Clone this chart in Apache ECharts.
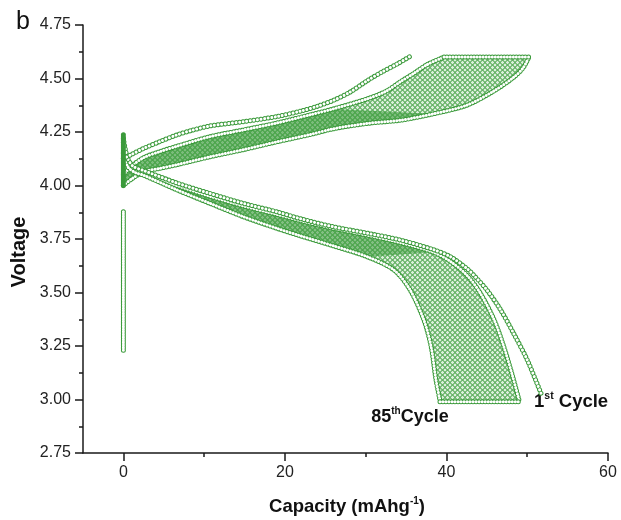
<!DOCTYPE html>
<html>
<head>
<meta charset="utf-8">
<script src="https://cdn.jsdelivr.net/npm/echarts@6/dist/echarts.min.js"></script>
<style>
  html, body { margin: 0; padding: 0; background: #fff; }
  #chart { width: 621px; height: 520px; }
</style>
</head>
<body>
<div id="chart"></div>
<script>
// values: [capacity (mAh/g), voltage (V)]
const restColumn = [[0, 3.23], [0, 3.88]];
const spikeColumn = [[0, 4.0], [0, 4.24]];

// 1st cycle charge (the lone upper curve)
const charge1st = [[0, 4.125], [1, 4.145], [2.5, 4.173], [4.5, 4.205], [6.6, 4.236], [8.5, 4.258],
  [10.7, 4.278], [14.8, 4.298], [19, 4.322], [22, 4.348], [24, 4.37], [26, 4.398], [28, 4.435],
  [30.2, 4.49], [32, 4.53], [34, 4.57], [35.7, 4.608]];
// lower edge of the charge band (reaches 4.6 V last)
const chargeLow = [[0, 4.0], [1, 4.03], [2.5, 4.064], [4.5, 4.08], [6.6, 4.097], [10.7, 4.134],
  [14.8, 4.167], [19, 4.204], [23.1, 4.238], [26, 4.265], [30.2, 4.29], [34.3, 4.305],
  [38.4, 4.335], [42.5, 4.375], [45.8, 4.44], [48.3, 4.505], [49.5, 4.55], [50.2, 4.6]];
// upper edge of the charge band (reaches 4.6 V first)
const chargeHigh = [[0, 4.05], [1, 4.09], [2.5, 4.13], [4.5, 4.158], [6.6, 4.183], [10.7, 4.228],
  [14.8, 4.259], [19, 4.292], [23.1, 4.33], [26, 4.358], [30.2, 4.405], [32.5, 4.44],
  [34.3, 4.485], [36, 4.525], [37.6, 4.565], [39.7, 4.6]];
// 1st cycle discharge (outermost curve)
const discharge1st = [[0, 4.22], [0.5, 4.13], [1.2, 4.09], [2.5, 4.07], [6.6, 4.012], [10.7, 3.963],
  [14.8, 3.917], [19, 3.877], [21.9, 3.845], [26, 3.807], [30.2, 3.777], [34.3, 3.745],
  [38.4, 3.70], [40.5, 3.667], [42.6, 3.61], [43.4, 3.58], [45, 3.512], [46.7, 3.419],
  [48.3, 3.31], [50, 3.185], [51.2, 3.076], [51.8, 3.02]];
// right edge of the discharge fan
const dischargeHigh = [[0, 4.2], [0.5, 4.11], [1.2, 4.075], [2.5, 4.058], [6.6, 4.0], [10.7, 3.95],
  [14.8, 3.905], [19, 3.865], [22, 3.835], [26, 3.80], [30.2, 3.768], [34.3, 3.733],
  [38.4, 3.688], [40.5, 3.645], [42.6, 3.578], [44.2, 3.496], [45.9, 3.372], [47.1, 3.247],
  [48.2, 3.107], [49, 2.995]];
// left edge of the discharge fan (85th cycle)
const discharge85th = [[0, 4.15], [0.6, 4.085], [1.5, 4.06], [2.5, 4.048], [6.6, 3.98], [10.7, 3.917],
  [14.8, 3.855], [19, 3.80], [21.9, 3.765], [26, 3.718], [30.2, 3.667], [33.5, 3.605],
  [35.5, 3.512], [37.2, 3.372], [38.1, 3.247], [38.7, 3.092], [39.2, 2.995]];
const chargeEnd = [[39.7, 4.6], [50.2, 4.6]];
const dischargeEnd = [[39.2, 2.99], [49, 2.99]];

const xMajorTicks = [0, 20, 40, 60];
const xMinorTicks = [10, 30, 50];

const green = '#3a9a3a';
const ink = '#1a1a1a';
const font = '"Liberation Sans", Arial, sans-serif';

// one small hollow circle, tiled to fill the bands of cycles
const tile = document.createElement('canvas');
tile.width = 5;
tile.height = 5;
const tctx = tile.getContext('2d');
tctx.strokeStyle = 'rgba(55,155,55,0.9)';
tctx.lineWidth = 1;
tctx.beginPath();
tctx.arc(2.5, 2.5, 2, 0, Math.PI * 2);
tctx.stroke();
const ringFill = { image: tile, repeat: 'repeat' };

// a curve of hollow circles: green dots with white centres on the same dash
function ringLine(data, gap, hollow = true) {
  const base = { type: 'line', data, smooth: 0.3, symbol: 'none', silent: true, animation: false };
  const out = [
    Object.assign({}, base, { lineStyle: { color: green, width: 5, type: [0.01, gap], cap: 'round' } })
  ];
  if (hollow) {
    out.push(Object.assign({}, base, { lineStyle: { color: '#fff', width: 3, type: [0.01, gap], cap: 'round' } }));
  }
  return out;
}

function band(points, fill) {
  return {
    type: 'custom',
    coordinateSystem: 'cartesian2d',
    data: [points[0]],
    silent: true,
    animation: false,
    renderItem: (params, api) => ({
      type: 'polygon',
      shape: { points: points.map(p => api.coord(p)) },
      style: { fill, stroke: 'none' }
    })
  };
}

const chargeBand = chargeLow.concat(chargeHigh.slice().reverse());
const dischargeBand = dischargeHigh.concat(discharge85th.slice().reverse());
// the left parts of the bands, where the cycles pile up darkest
const chargeCore = chargeLow.filter(p => p[0] <= 38.4)
  .concat(chargeHigh.filter(p => p[0] <= 26).reverse());
const dischargeCore = dischargeHigh.filter(p => p[0] <= 38.4)
  .concat(discharge85th.filter(p => p[0] <= 30.2).reverse());

const tickStyle = { color: ink, width: 1.5 };

const chart = echarts.init(document.getElementById('chart'));
chart.setOption({
  animation: false,
  grid: { left: 83, right: 13, top: 25, bottom: 67 },
  xAxis: [
    {
      type: 'value', min: -5, max: 60, position: 'bottom',
      axisLine: { show: true, onZero: false, lineStyle: tickStyle },
      axisTick: { show: true, length: 8, customValues: xMajorTicks, lineStyle: tickStyle },
      axisLabel: { customValues: xMajorTicks, fontSize: 16, color: '#222', margin: 12, fontFamily: font },
      splitLine: { show: false }
    },
    {
      type: 'value', min: -5, max: 60, position: 'bottom', offset: 0,
      axisLine: { show: false, onZero: false },
      axisTick: { show: true, length: 4, customValues: xMinorTicks, lineStyle: tickStyle },
      axisLabel: { show: false },
      splitLine: { show: false }
    }
  ],
  yAxis: {
    type: 'value', min: 2.75, max: 4.75, interval: 0.25,
    axisLine: { show: true, onZero: false, lineStyle: tickStyle },
    axisTick: { show: true, length: 8, lineStyle: tickStyle },
    minorTick: { show: true, splitNumber: 2, length: 4, lineStyle: tickStyle },
    axisLabel: { formatter: v => v.toFixed(2), fontSize: 16, color: '#222', margin: 12, fontFamily: font },
    splitLine: { show: false },
    minorSplitLine: { show: false }
  },
  series: [
    band(chargeBand, 'rgba(60,160,60,0.18)'),
    band(dischargeBand, 'rgba(60,160,60,0.18)'),
    band(chargeCore, 'rgba(45,145,45,0.55)'),
    band(dischargeCore, 'rgba(45,145,45,0.5)'),
    band(chargeBand, ringFill),
    band(dischargeBand, ringFill),
    ...ringLine(restColumn, 1.6),
    ...ringLine(chargeLow, 3),
    ...ringLine(chargeHigh, 3),
    ...ringLine(chargeEnd, 3),
    ...ringLine(dischargeHigh, 3),
    ...ringLine(discharge85th, 3),
    ...ringLine(dischargeEnd, 3),
    ...ringLine(discharge1st, 3.6),
    ...ringLine(charge1st, 3.6),
    ...ringLine(spikeColumn, 1.2, false)
  ],
  graphic: [
    { type: 'text', left: 16, top: 10, style: { text: 'b', fontSize: 25, fontFamily: font, fill: '#111' } },
    {
      type: 'text', x: 19, y: 252, rotation: Math.PI / 2,
      style: { text: 'Voltage', fontSize: 20, fontWeight: 'bold', fontFamily: font, fill: '#111',
        align: 'center', verticalAlign: 'middle' }
    },
    {
      type: 'text', x: 347, y: 507,
      style: {
        text: '{a|Capacity (mAhg}{s|-1}{a|)}', align: 'center', verticalAlign: 'middle',
        rich: {
          a: { fontSize: 18.5, fontWeight: 'bold', fontFamily: font, fill: '#111', lineHeight: 22 },
          s: { fontSize: 10, fontWeight: 'bold', fontFamily: font, fill: '#111', lineHeight: 22, verticalAlign: 'top' }
        }
      }
    },
    {
      type: 'text', x: 410, y: 417,
      style: {
        text: '{a|85}{s|th}{a|Cycle}', align: 'center', verticalAlign: 'middle',
        rich: {
          a: { fontSize: 18, fontWeight: 'bold', fontFamily: font, fill: '#111', lineHeight: 22 },
          s: { fontSize: 10, fontWeight: 'bold', fontFamily: font, fill: '#111', lineHeight: 22, verticalAlign: 'top' }
        }
      }
    },
    {
      type: 'text', x: 534, y: 402,
      style: {
        text: '{a|1}{s|st}{a| Cycle}', align: 'left', verticalAlign: 'middle',
        rich: {
          a: { fontSize: 18.5, fontWeight: 'bold', fontFamily: font, fill: '#111', lineHeight: 22 },
          s: { fontSize: 10.5, fontWeight: 'bold', fontFamily: font, fill: '#111', lineHeight: 22, verticalAlign: 'top' }
        }
      }
    }
  ]
});
</script>
</body>
</html>
